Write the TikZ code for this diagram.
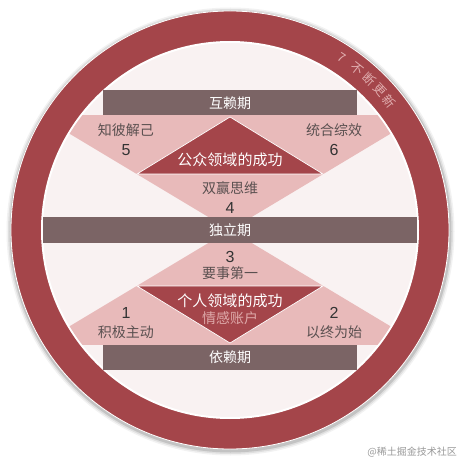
\documentclass[tikz,border=0pt]{standalone}
\usepackage{fontspec}
\setmainfont{Liberation Sans}
\newfontfamily\cjk{Noto Sans CJK SC}
\usetikzlibrary{positioning}
\definecolor{ringred}{HTML}{A4454A}
\definecolor{pale}{HTML}{F9F2F2}
\definecolor{rose}{HTML}{E8BABA}
\definecolor{bandgray}{HTML}{7B6465}
\definecolor{labelgray}{HTML}{5A5050}
\begin{document}
\begin{tikzpicture}[x=1pt,y=1pt,
  stagebox/.style={fill=bandgray,text=white,inner sep=0pt,minimum height=25,font=\cjk\fontsize{14}{14}\selectfont},
  habit/.style={text=labelgray,inner sep=1pt,font=\cjk\fontsize{14}{14}\selectfont},
  num/.style={text=black!80,inner sep=1pt,font=\fontsize{16}{16}\selectfont},
  area/.style={text=white,inner sep=1pt,font=\cjk\fontsize{15}{15}\selectfont},
  ringtext/.style={text=rose!90!ringred,inner sep=0pt,font=\cjk\fontsize{12.5}{12.5}\selectfont}]
\useasboundingbox[fill=white] (-230,-230) rectangle (230,230);
% shadow and ring
\foreach \r/\o in {224/0.05,222.5/0.08,221/0.12}
  \fill[black,opacity=\o] (0.5,-1.5) circle (\r);
\fill[ringred,draw=white,line width=0.8] (0,0) circle (219);
\fill[pale,draw=white,line width=2] (0,0) circle (188);
% rose sectors between the outer stages
\begin{scope}
  \clip (0,0) circle (187);
  \clip (-200,-114.5) rectangle (200,114.5);
  \fill[rose] (0,0) -- (-400,240) -- (400,240) -- cycle;
  \fill[rose] (0,0) -- (-400,-240) -- (400,-240) -- cycle;
\end{scope}
% success triangles
\filldraw[fill=ringred,draw=white,line width=0.7] (0,113) -- (-93,56) -- (93,56) -- cycle;
\filldraw[fill=ringred,draw=white,line width=0.7] (0,-113) -- (-93,-56) -- (93,-56) -- cycle;
% stages
\node[stagebox,minimum width=254] (interdep) at (0,127) {互赖期};
\node[stagebox,minimum width=373] (indep) at (0,0) {独立期};
\node[stagebox,minimum width=254] (dep) at (0,-127) {依赖期};
% public victory
\node[area] (public) at (0,70) {公众领域的成功};
\node[habit] (h5) at (-104,100) {知彼解己};
\node[num] (n5) at (-104,80) {5};
\node[habit] (h6) at (104,100) {统合综效};
\node[num] (n6) at (104,80) {6};
\node[habit] (h4) at (0,42) {双赢思维};
\node[num] (n4) at (0,22) {4};
% private victory
\node[num] (n3) at (0,-27) {3};
\node[habit] (h3) at (0,-43) {要事第一};
\node[area] (private) at (0,-71) {个人领域的成功};
\node[habit,text=rose!85!ringred] (bank) at (0,-88) {情感账户};
\node[num] (n1) at (-104,-83) {1};
\node[habit] (h1) at (-104,-102) {积极主动};
\node[num] (n2) at (104,-83) {2};
\node[habit] (h2) at (104,-102) {以终为始};
% renewal on the ring
\foreach \ch/\a [count=\i] in {7/57,不/51.6,断/47.3,更/43.1,新/38.9}
  \node[ringtext,rotate=\a-90] (renew\i) at (\a:205) {\ch};
\node[anchor=east,text=black!40,inner sep=0pt,font=\cjk\fontsize{10}{10}\selectfont] (mark) at (227,-222) {@稀土掘金技术社区};
\end{tikzpicture}
\end{document}
